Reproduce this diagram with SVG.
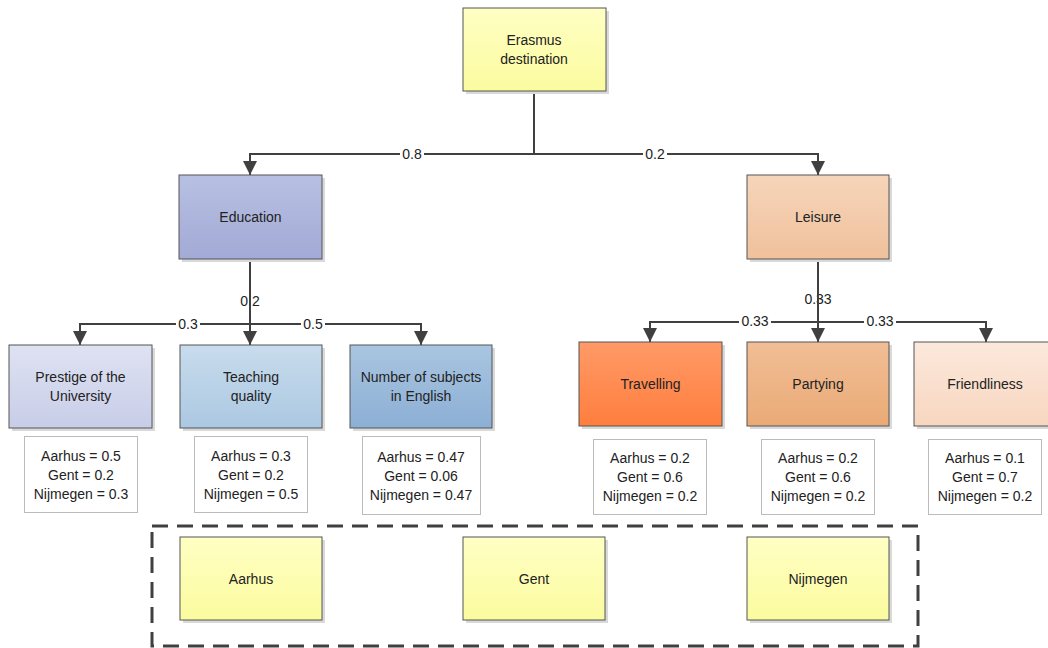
<svg xmlns="http://www.w3.org/2000/svg" width="1048" height="648" viewBox="0 0 1048 648">
<defs>
<linearGradient id="gY" x1="0" y1="0" x2="0" y2="1"><stop offset="0" stop-color="#ffffc4"/><stop offset="1" stop-color="#fbfb9f"/></linearGradient>
<linearGradient id="gEdu" x1="0" y1="0" x2="0" y2="1"><stop offset="0" stop-color="#b8c0e2"/><stop offset="1" stop-color="#a2aad6"/></linearGradient>
<linearGradient id="gPre" x1="0" y1="0" x2="0" y2="1"><stop offset="0" stop-color="#dfe2f2"/><stop offset="1" stop-color="#c8cde8"/></linearGradient>
<linearGradient id="gTea" x1="0" y1="0" x2="0" y2="1"><stop offset="0" stop-color="#c8dcec"/><stop offset="1" stop-color="#abc8e2"/></linearGradient>
<linearGradient id="gNum" x1="0" y1="0" x2="0" y2="1"><stop offset="0" stop-color="#a9c5e0"/><stop offset="1" stop-color="#8cafd5"/></linearGradient>
<linearGradient id="gLei" x1="0" y1="0" x2="0" y2="1"><stop offset="0" stop-color="#f6d5ba"/><stop offset="1" stop-color="#f0c19c"/></linearGradient>
<linearGradient id="gTra" x1="0" y1="0" x2="0" y2="1"><stop offset="0" stop-color="#ff9a68"/><stop offset="1" stop-color="#ff7e3e"/></linearGradient>
<linearGradient id="gPar" x1="0" y1="0" x2="0" y2="1"><stop offset="0" stop-color="#f1be96"/><stop offset="1" stop-color="#eaaa76"/></linearGradient>
<linearGradient id="gFri" x1="0" y1="0" x2="0" y2="1"><stop offset="0" stop-color="#fce9dc"/><stop offset="1" stop-color="#f7d6bf"/></linearGradient>
<marker id="arr" markerUnits="userSpaceOnUse" markerWidth="14" markerHeight="14" viewBox="0 0 12 12" refX="12" refY="6" orient="auto">
<path d="M0 0 L12 6 L0 12 Z" fill="#404040"/>
</marker>
</defs>
<style>
.box{stroke:#555;stroke-width:1}
.sh{fill:#d9d9d9}
.t{font-family:"Liberation Sans",Arial,sans-serif;font-size:14px;fill:#222;text-anchor:middle}
.val{fill:#fff;stroke:#777;stroke-width:1;stroke-dasharray:1 1}
.con{fill:none;stroke:#404040;stroke-width:2}
.lbg{fill:#fff}
</style>
<rect width="1048" height="648" fill="#fff"/>

<g id="connectors">
<text class="t" x="250" y="306">0.2</text>
<text class="t" x="818" y="304">0.33</text>
<path class="con" d="M534 91 V154"/>
<path class="con" d="M534 154 H250 V175" marker-end="url(#arr)"/>
<path class="con" d="M534 154 H818 V175" marker-end="url(#arr)"/>
<path class="con" d="M250 259 V345" marker-end="url(#arr)"/>
<path class="con" d="M250 324 H80 V345" marker-end="url(#arr)"/>
<path class="con" d="M250 324 H421 V345" marker-end="url(#arr)"/>
<path class="con" d="M818 259 V342" marker-end="url(#arr)"/>
<path class="con" d="M818 322 H650 V342" marker-end="url(#arr)"/>
<path class="con" d="M818 322 H986 V342" marker-end="url(#arr)"/>
<rect class="lbg" x="400" y="147" width="24" height="15"/><text class="t" x="412" y="159">0.8</text>
<rect class="lbg" x="643" y="147" width="24" height="15"/><text class="t" x="655" y="159">0.2</text>
<rect class="lbg" x="176" y="317" width="24" height="15"/><text class="t" x="188" y="329">0.3</text>
<rect class="lbg" x="301" y="317" width="24" height="15"/><text class="t" x="313" y="329">0.5</text>
<rect class="lbg" x="739" y="315" width="32" height="15"/><text class="t" x="755" y="326">0.33</text>
<rect class="lbg" x="864" y="315" width="32" height="15"/><text class="t" x="880" y="326">0.33</text>
</g>

<g id="root">
<rect class="sh" x="466" y="11" width="143" height="83"/>
<rect class="box" x="463" y="8" width="143" height="83" fill="url(#gY)"/>
<text class="t" x="534" y="45">Erasmus</text>
<text class="t" x="534" y="64">destination</text>
</g>

<g id="education">
<rect class="sh" x="182" y="178" width="143" height="84"/>
<rect class="box" x="179" y="175" width="143" height="84" fill="url(#gEdu)"/>
<text class="t" x="250.5" y="222">Education</text>
</g>

<g id="leisure">
<rect class="sh" x="750" y="178" width="142" height="84"/>
<rect class="box" x="747" y="175" width="142" height="84" fill="url(#gLei)"/>
<text class="t" x="818" y="222">Leisure</text>
</g>

<g id="prestige">
<rect class="sh" x="12" y="348" width="143" height="83"/>
<rect class="box" x="9" y="345" width="143" height="83" fill="url(#gPre)"/>
<text class="t" x="80.5" y="382">Prestige of the</text>
<text class="t" x="80.5" y="401">University</text>
</g>

<g id="teaching">
<rect class="sh" x="183" y="348" width="142" height="83"/>
<rect class="box" x="180" y="345" width="142" height="83" fill="url(#gTea)"/>
<text class="t" x="251" y="382">Teaching</text>
<text class="t" x="251" y="401">quality</text>
</g>

<g id="subjects">
<rect class="sh" x="353" y="348" width="142" height="83"/>
<rect class="box" x="350" y="345" width="142" height="83" fill="url(#gNum)"/>
<text class="t" x="421" y="382">Number of subjects</text>
<text class="t" x="421" y="401">in English</text>
</g>

<g id="travelling">
<rect class="sh" x="582" y="345" width="143" height="84"/>
<rect class="box" x="579" y="342" width="143" height="84" fill="url(#gTra)"/>
<text class="t" x="650.5" y="389">Travelling</text>
</g>

<g id="partying">
<rect class="sh" x="750" y="345" width="142" height="84"/>
<rect class="box" x="747" y="342" width="142" height="84" fill="url(#gPar)"/>
<text class="t" x="818" y="389">Partying</text>
</g>

<g id="friendliness">
<rect class="sh" x="917" y="345" width="142" height="84"/>
<rect class="box" x="914" y="342" width="142" height="84" fill="url(#gFri)"/>
<text class="t" x="985" y="389">Friendliness</text>
</g>

<g id="val-prestige">
<rect class="val" x="24.5" y="436.5" width="113" height="76"/>
<text class="t" x="81" y="461">Aarhus = 0.5</text>
<text class="t" x="81" y="480">Gent = 0.2</text>
<text class="t" x="81" y="499">Nijmegen = 0.3</text>
</g>
<g id="val-teaching">
<rect class="val" x="194.5" y="436.5" width="113" height="76"/>
<text class="t" x="251" y="461">Aarhus = 0.3</text>
<text class="t" x="251" y="480">Gent = 0.2</text>
<text class="t" x="251" y="499">Nijmegen = 0.5</text>
</g>
<g id="val-subjects">
<rect class="val" x="362.5" y="436.5" width="118" height="78"/>
<text class="t" x="421" y="462">Aarhus = 0.47</text>
<text class="t" x="421" y="481">Gent = 0.06</text>
<text class="t" x="421" y="500">Nijmegen = 0.47</text>
</g>
<g id="val-travelling">
<rect class="val" x="593.5" y="439.5" width="113" height="75"/>
<text class="t" x="650" y="463">Aarhus = 0.2</text>
<text class="t" x="650" y="482">Gent = 0.6</text>
<text class="t" x="650" y="501">Nijmegen = 0.2</text>
</g>
<g id="val-partying">
<rect class="val" x="761.5" y="439.5" width="113" height="75"/>
<text class="t" x="818" y="463">Aarhus = 0.2</text>
<text class="t" x="818" y="482">Gent = 0.6</text>
<text class="t" x="818" y="501">Nijmegen = 0.2</text>
</g>
<g id="val-friendliness">
<rect class="val" x="928.5" y="439.5" width="113" height="75"/>
<text class="t" x="985" y="463">Aarhus = 0.1</text>
<text class="t" x="985" y="482">Gent = 0.7</text>
<text class="t" x="985" y="501">Nijmegen = 0.2</text>
</g>

<g id="alternatives">
<rect x="152" y="526" width="766" height="120" fill="none" stroke="#404040" stroke-width="3" stroke-dasharray="16 9"/>
</g>
<g id="aarhus">
<rect class="sh" x="183" y="540" width="142" height="83"/>
<rect class="box" x="180" y="537" width="142" height="83" fill="url(#gY)"/>
<text class="t" x="251" y="584">Aarhus</text>
</g>
<g id="gent">
<rect class="sh" x="466" y="540" width="142" height="83"/>
<rect class="box" x="463" y="537" width="142" height="83" fill="url(#gY)"/>
<text class="t" x="534" y="584">Gent</text>
</g>
<g id="nijmegen">
<rect class="sh" x="750" y="540" width="142" height="83"/>
<rect class="box" x="747" y="537" width="142" height="83" fill="url(#gY)"/>
<text class="t" x="818" y="584">Nijmegen</text>
</g>
</svg>
